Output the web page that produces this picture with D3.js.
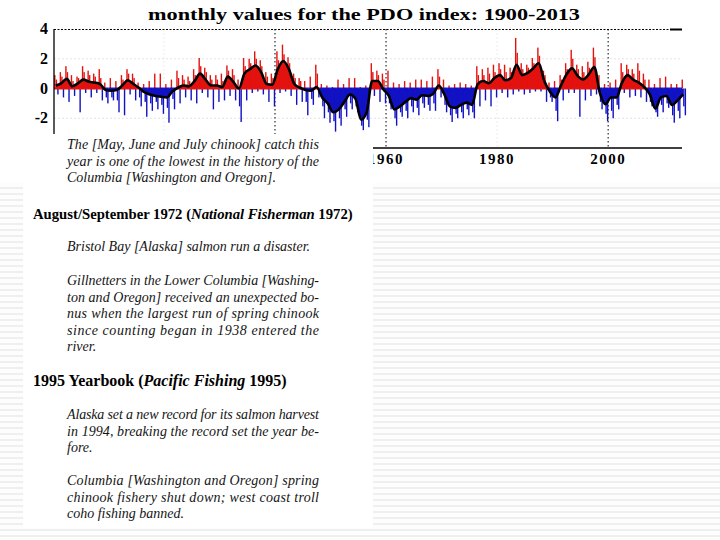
<!DOCTYPE html>
<html><head><meta charset="utf-8">
<script src="https://cdn.jsdelivr.net/npm/d3@7"></script>
<style>html,body{margin:0;padding:0;background:#fff;}svg{display:block;}</style>
</head><body>
<script>
// ---------- DATA ----------
const years = d3.range(1900, 2014);
// smoothed PDO (black line), one value per year
const pdoSmooth = [
 0.2,0.35,0.65,0.15,0.35,0.6,0.45,0.4,0.3,-0.1,
 -0.15,-0.1,0.2,0.55,0.3,0.05,-0.25,-0.4,-0.5,-0.55,
 -0.6,-0.2,0.05,0.2,0.15,0.5,1.0,0.6,0.2,0.2,
 0.1,0.8,0.45,0.0,1.0,1.3,1.55,1.1,0.3,0.25,
 1.3,1.85,1.3,0.3,0.05,-0.1,-0.15,0.1,-0.6,-1.0,
 -1.6,-1.4,-0.9,-0.4,-0.7,-2.1,-1.6,0.5,0.5,-0.05,
 -0.5,-1.4,-1.2,-0.9,-0.65,-0.75,-0.45,-0.5,-0.35,0.2,
 -0.4,-1.2,-1.3,-1.1,-0.95,-1.1,0.3,0.5,0.35,0.7,
 0.9,0.55,0.7,1.6,0.9,1.05,1.35,1.7,0.5,-0.2,
 -0.6,0.2,0.95,1.35,0.85,0.6,0.95,1.45,-0.3,-1.05,
 -0.6,-0.6,0.4,0.9,0.6,0.4,0.1,-0.4,-1.35,-0.6,
 -0.5,-1.1,-0.8,-0.4];
// highest monthly value in each year
const pdoHigh = [
 0.9,1.1,1.5,0.9,0.8,1.5,1.2,1.0,1.3,0.4,
 0.7,0.5,0.9,1.3,1.0,0.4,0.3,0.5,1.0,1.0,
 0.3,0.6,1.2,0.9,0.8,1.3,2.05,1.4,0.9,0.9,
 1.0,1.55,1.3,0.6,2.05,2.0,2.5,1.9,1.1,1.0,
 2.5,2.95,2.1,1.0,0.7,0.5,0.8,1.6,0.3,0.2,
 0.1,0.6,0.3,0.7,0.7,0.1,0.2,1.7,1.2,1.0,
 1.2,0.4,0.3,0.5,0.4,0.6,0.6,0.5,0.8,1.3,
 0.6,0.2,0.3,0.4,0.3,0.2,1.5,1.3,1.4,1.6,
 1.7,1.6,1.4,3.4,1.7,1.6,2.05,2.75,1.2,0.4,
 0.5,0.9,1.7,2.6,1.6,1.5,1.8,2.75,0.9,0.3,
 0.4,0.6,1.7,1.6,1.3,1.7,1.0,0.6,0.3,0.7,
 0.8,0.3,0.3,0.6];
// lowest monthly value in each year
const pdoLow = [
 -0.4,-0.6,-0.9,-0.5,-1.6,-0.3,-0.6,-0.3,-0.8,-1.0,
 -0.8,-1.6,-1.8,-0.4,-0.8,-1.2,-1.9,-1.5,-1.4,-1.7,
 -2.3,-1.4,-1.0,-0.6,-0.8,-1.0,-0.3,-0.6,-1.4,-0.9,
 -0.8,-0.5,-0.8,-2.25,-0.8,-0.3,-0.2,-0.4,-0.9,-1.2,
 -0.3,-0.2,-0.5,-1.1,-0.9,-1.8,-1.1,-0.6,-2.0,-2.3,
 -2.9,-2.5,-1.9,-1.4,-1.6,-2.8,-2.6,-0.5,-0.9,-1.0,
 -1.4,-2.5,-1.9,-2.0,-1.6,-1.8,-1.3,-1.5,-1.5,-0.6,
 -1.6,-2.25,-2.0,-2.0,-1.8,-2.0,-1.2,-0.8,-1.2,-0.6,
 -0.3,-0.6,-0.4,-0.2,-0.4,-0.3,-0.2,-0.2,-0.9,-0.9,
 -2.2,-0.8,-0.3,-0.3,-1.9,-0.8,-0.5,-0.4,-1.4,-2.2,
 -2.0,-1.4,-0.3,-0.6,-0.5,-0.6,-0.9,-1.2,-1.9,-1.6,
 -1.3,-2.3,-2.0,-1.8];
// a typical (mid-size) monthly value in each year
const pdoMid = [
 0.6,0.8,1.1,0.5,0.7,1.1,0.9,0.8,0.7,-0.6,
 -0.6,-0.8,0.6,1.0,0.7,-0.6,-0.9,-1.0,-0.9,-1.1,
 -1.3,-0.7,0.7,0.6,0.5,0.9,1.5,1.1,0.6,0.6,
 0.5,1.2,0.9,-1.2,1.5,1.7,2.0,1.5,0.8,0.7,
 1.9,2.3,1.7,0.7,0.5,-0.9,-0.7,1.0,-1.2,-1.6,
 -2.2,-2.0,-1.4,-1.0,-1.2,-2.5,-2.1,1.1,0.9,0.6,
 -1.0,-2.0,-1.6,-1.5,-1.2,-1.3,-1.0,-1.1,-1.0,0.8,
 -1.1,-1.8,-1.7,-1.6,-1.4,-1.6,0.9,0.9,1.0,1.1,
 1.3,1.1,1.1,2.4,1.3,1.4,1.7,2.2,0.9,-0.6,
 -1.5,0.6,1.3,2.0,1.3,1.1,1.4,2.1,-0.9,-1.7,
 -1.5,-1.1,1.1,1.3,1.0,1.2,0.6,-0.9,-1.6,-1.1,
 -1.0,-1.8,-1.5,-1.2];
const yTicks = [4, 2, 0, -2];
const xTickLabels = [1960, 1980, 2000];
const gridYears = [1920, 1940, 1960, 1980, 2000];
const darkGridYears = [1940, 1960, 2000];
const title = "monthly values for the PDO index: 1900-2013";

// text excerpts
const para1 = ["The [May, June and July chinook] catch this", "year is one of the lowest in the history of the", "Columbia [Washington and Oregon]."];
const head2 = ["August/September 1972 (", "National Fisherman", " 1972)"];
const para2a = ["Bristol Bay [Alaska] salmon run a disaster."];
const para2b = ["Gillnetters in the Lower Columbia [Washing-", "ton and Oregon] received an unexpected bo-", "nus when the largest run of spring chinook", "since counting began in 1938 entered the", "river."];
const head3 = ["1995 Yearbook (", "Pacific Fishing", " 1995)"];
const para3a = ["Alaska set a new record for its salmon harvest", "in 1994, breaking the record set the year be-", "fore."];
const para3b = ["Columbia [Washington and Oregon] spring", "chinook fishery shut down; west coast troll", "coho fishing banned."];

// ---------- DRAW ----------
const W = 720, H = 540;
const svg = d3.select("body").append("svg").attr("width", W).attr("height", H);
const defs = svg.append("defs");
const pat = defs.append("pattern").attr("id", "stripes").attr("patternUnits", "userSpaceOnUse")
  .attr("width", 8).attr("height", 6);
pat.append("rect").attr("width", 8).attr("height", 6).attr("fill", "#fdfdfd");
pat.append("rect").attr("y", 1).attr("width", 8).attr("height", 2).attr("fill", "#efefef");

svg.append("rect").attr("width", W).attr("height", H).attr("fill", "url(#stripes)");
svg.append("rect").attr("width", W).attr("height", 183).attr("fill", "#fff");

const x = d3.scaleLinear().domain([1900.2, 2013.3]).range([54, 682]);
const y = d3.scaleLinear().domain([-4, 4]).range([148, 29]);
const y0 = y(0);
const RED = "#e3120f", BLUE = "#1212c4";

const serif = "'Liberation Serif','Times New Roman',serif";

// title
svg.append("text").attr("x", 148).attr("y", 20).attr("textLength", 432).attr("lengthAdjust", "spacingAndGlyphs")
  .attr("font-family", serif).attr("font-weight", "bold").attr("font-size", 17).attr("fill", "#000").text(title);

const g = svg.append("g");

// horizontal light grid
g.selectAll(".hg").data([2, -2]).join("line")
  .attr("x1", x(1900.2)).attr("x2", x(2013.3)).attr("y1", d => y(d)).attr("y2", d => y(d))
  .attr("stroke", "#e4e4e4").attr("stroke-width", 1).attr("stroke-dasharray", "2,2");
// vertical grid
g.selectAll(".vg").data(gridYears).join("line")
  .attr("x1", d => x(d)).attr("x2", d => x(d)).attr("y1", y(4)).attr("y2", y(-4))
  .attr("stroke", d => darkGridYears.includes(d) ? "#000" : "#e6e6e6")
  .attr("stroke-width", 1).attr("stroke-dasharray", "1.5,2.5");

// clip paths
defs.append("clipPath").attr("id", "clipPos").append("rect")
  .attr("x", 0).attr("y", 0).attr("width", W).attr("height", y0);
defs.append("clipPath").attr("id", "clipNeg").append("rect")
  .attr("x", 0).attr("y", y0).attr("width", W).attr("height", H);

const pts = years.map((yr, i) => ({ t: yr + 0.5, v: pdoSmooth[i] }));
const area = d3.area().x(d => x(d.t)).y0(y0).y1(d => y(d.v)).curve(d3.curveMonotoneX);
g.append("path").datum(pts).attr("d", area).attr("fill", RED).attr("clip-path", "url(#clipPos)");
g.append("path").datum(pts).attr("d", area).attr("fill", BLUE).attr("clip-path", "url(#clipNeg)");

// monthly spikes
function spikes(cls, vals, off) {
  g.selectAll("." + cls).data(years).join("rect").attr("class", cls)
    .attr("x", d => x(d + off)).attr("width", 1.4)
    .attr("y", (d, i) => vals[i] >= 0 ? y(vals[i]) : y0)
    .attr("height", (d, i) => Math.abs(y(vals[i]) - y0))
    .attr("fill", (d, i) => vals[i] >= 0 ? RED : BLUE);
}
spikes("hi", pdoHigh, 0.22);
spikes("mid", pdoMid, 0.5);
spikes("lo", pdoLow, 0.78);

// zero line colored by sign
g.selectAll(".zl").data(years).join("line")
  .attr("x1", d => x(Math.max(1900.2, d))).attr("x2", d => x(Math.min(2013.3, d + 1)))
  .attr("y1", y0).attr("y2", y0)
  .attr("stroke", (d, i) => pdoSmooth[i] >= 0 ? RED : BLUE).attr("stroke-width", 2);

// smoothed line
const line = d3.line().x(d => x(d.t)).y(d => y(d.v)).curve(d3.curveMonotoneX);
g.append("path").datum(pts).attr("d", line).attr("fill", "none").attr("stroke", "#000").attr("stroke-width", 2.6);

// frame
g.append("line").attr("x1", 54).attr("x2", 682).attr("y1", 29.5).attr("y2", 29.5)
  .attr("stroke", "#000").attr("stroke-width", 1.2).attr("stroke-dasharray", "2,1.5");
g.append("line").attr("x1", 670).attr("x2", 682).attr("y1", 29.5).attr("y2", 29.5)
  .attr("stroke", "#000").attr("stroke-width", 2);
g.append("line").attr("x1", 54).attr("x2", 54).attr("y1", 29).attr("y2", 148)
  .attr("stroke", "#000").attr("stroke-width", 1.3);
g.append("line").attr("x1", 54).attr("x2", 682).attr("y1", 148).attr("y2", 148)
  .attr("stroke", "#000").attr("stroke-width", 1.3);

// y tick labels
g.selectAll(".yt").data(yTicks).join("text")
  .attr("x", 48).attr("y", d => y(d) + 5).attr("text-anchor", "end")
  .attr("font-family", serif).attr("font-weight", "bold").attr("font-size", 16).attr("fill", "#000")
  .text(d => d);
// x tick labels
g.selectAll(".xt").data(xTickLabels).join("text")
  .attr("x", d => x(d)).attr("y", 164).attr("text-anchor", "middle")
  .attr("font-family", serif).attr("font-weight", "bold").attr("font-size", 15).attr("fill", "#000")
  .attr("letter-spacing", 1.5)
  .text(d => d);

// ---------- TEXT PANEL ----------
svg.append("rect").attr("x", 23).attr("y", 134).attr("width", 350).attr("height", 394).attr("fill", "#fff");

const LX = 67, LW = 252, TXT = "#141414";
function para(lines, firstBaseline) {
  lines.forEach((s, i) => {
    const last = i === lines.length - 1;
    const t = svg.append("text").attr("x", LX).attr("y", firstBaseline + i * 16.6)
      .attr("font-family", serif).attr("font-style", "italic").attr("font-size", 14).attr("fill", TXT)
      .text(s);
    if (!last) t.attr("textLength", LW).attr("lengthAdjust", "spacing");
  });
}
function heading(parts, baseline, size) {
  const t = svg.append("text").attr("x", 33).attr("y", baseline)
    .attr("font-family", serif).attr("font-weight", "bold").attr("font-size", size).attr("fill", "#000");
  parts.forEach((p, i) => {
    t.append("tspan").attr("font-style", i === 1 ? "italic" : "normal").text(p);
  });
}
para(para1, 149);
heading(head2, 219, 14.7);
para(para2a, 251);
para(para2b, 285);
heading(head3, 386, 16);
para(para3a, 419);
para(para3b, 485);
</script>
</body></html>
